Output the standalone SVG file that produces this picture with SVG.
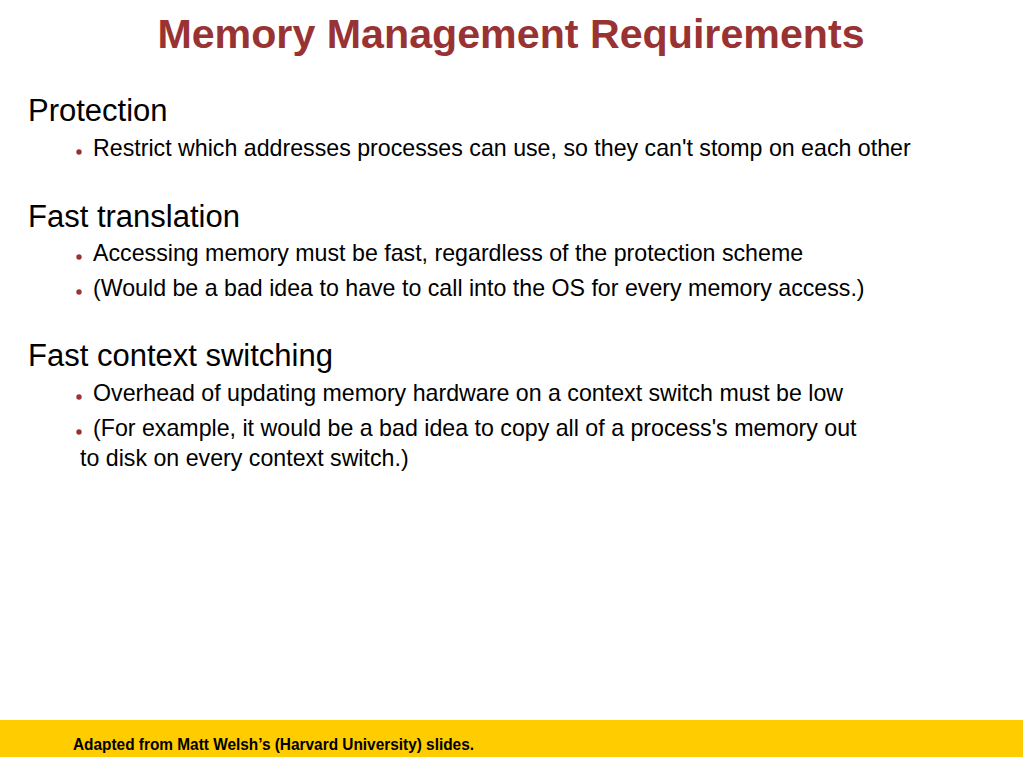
<svg xmlns="http://www.w3.org/2000/svg" width="1023" height="767" viewBox="0 0 1023 767">
<style>
.title{font-family:"Liberation Sans",Arial,sans-serif;font-weight:bold;font-size:41.2px;fill:#993333}
.h{font-family:"Liberation Sans",Arial,sans-serif;font-size:31px;fill:#000}
.b{font-family:"Liberation Sans",Arial,sans-serif;font-size:23.2px;fill:#000}
.foot{font-family:"Liberation Sans",Arial,sans-serif;font-weight:bold;font-size:16px;fill:#000}
.dot{fill:#993333}
</style>
<rect x="0" y="0" width="1023" height="767" fill="#ffffff"/>
<g id="title"><text class="title" x="511" y="48" text-anchor="middle">Memory Management Requirements</text></g>
<g id="protection">
<text class="h" x="28" y="121">Protection</text>
<circle class="dot" cx="79" cy="152" r="2.7"/>
<text class="b" x="93" y="156">Restrict which addresses processes can use, so they can't stomp on each other</text>
</g>
<g id="fast-translation">
<text class="h" x="28" y="227">Fast translation</text>
<circle class="dot" cx="79" cy="257" r="2.7"/>
<text class="b" x="93" y="261">Accessing memory must be fast, regardless of the protection scheme</text>
<circle class="dot" cx="79" cy="292" r="2.7"/>
<text class="b" x="93" y="296">(Would be a bad idea to have to call into the OS for every memory access.)</text>
</g>
<g id="fast-context">
<text class="h" x="28" y="366">Fast context switching</text>
<circle class="dot" cx="79" cy="397" r="2.7"/>
<text class="b" x="93" y="401">Overhead of updating memory hardware on a context switch must be low</text>
<circle class="dot" cx="79" cy="432" r="2.7"/>
<text class="b" x="93" y="436">(For example, it would be a bad idea to copy all of a process's memory out</text>
<text class="b" x="80" y="466">to disk on every context switch.)</text>
</g>
<g id="footer">
<rect x="0" y="720" width="1023" height="37" fill="#ffcc00"/>
<text class="foot" x="73" y="750" textLength="401" lengthAdjust="spacingAndGlyphs">Adapted from Matt Welsh’s (Harvard University) slides.</text>
</g>
</svg>
